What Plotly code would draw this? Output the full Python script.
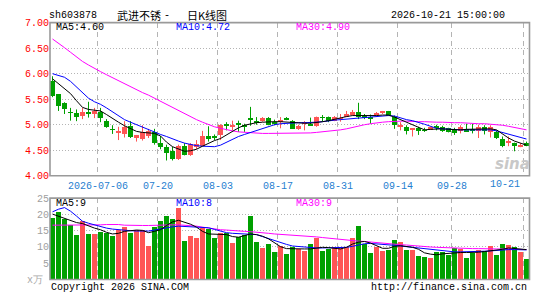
import plotly.graph_objects as go

# ---------------- data ----------------
dates = ["06-24","06-25","06-26","06-29","06-30","07-01","07-02","07-03",
         "07-06","07-07","07-08","07-09","07-10","07-13","07-14","07-15","07-16","07-17",
         "07-20","07-21","07-22","07-23","07-24","07-27","07-28","07-29","07-30","07-31",
         "08-03","08-04","08-05","08-06","08-07","08-10","08-11","08-12","08-13","08-14",
         "08-17","08-18","08-19","08-20","08-21","08-24","08-25","08-26","08-27","08-28",
         "08-31","09-01","09-02","09-03","09-04","09-07","09-08","09-09","09-10","09-11",
         "09-14","09-15","09-16","09-17","09-18","09-21","09-22","09-23","09-24",
         "09-28","09-29","09-30","10-08","10-09","10-12","10-13","10-14","10-15","10-16",
         "10-19","10-20","10-21"]

open_ = [5.87,5.60,5.43,5.25,5.24,5.18,5.26,5.21,5.26,5.08,
         4.92,4.86,4.82,4.99,4.75,4.72,4.78,4.86,4.65,4.58,
         4.50,4.34,4.59,4.42,4.57,4.59,4.78,4.77,4.80,5.00,
         4.98,5.04,4.99,5.12,5.07,5.08,5.13,5.06,5.08,5.14,
         5.08,4.92,5.02,5.03,4.98,5.15,5.16,5.08,5.12,5.16,
         5.19,5.25,5.18,5.16,5.20,5.24,5.27,5.16,4.96,4.97,
         4.92,4.94,4.90,4.91,4.99,4.96,4.94,4.92,4.89,4.92,
         4.91,4.89,4.97,4.87,4.86,4.72,4.65,4.64,4.57,4.65]
close = [5.57,5.38,5.31,5.24,5.16,5.26,5.21,5.27,5.13,4.97,
         4.91,4.87,4.97,4.77,4.80,4.87,4.88,4.65,4.57,4.45,
         4.34,4.59,4.42,4.63,4.63,4.78,4.72,4.76,5.01,4.99,
         4.99,5.00,4.97,5.11,5.06,5.13,5.00,5.04,5.11,5.10,
         4.92,4.99,5.06,5.00,5.16,5.14,5.09,5.16,5.13,5.22,
         5.25,5.15,5.13,5.12,5.24,5.26,5.17,5.00,5.01,4.89,
         4.92,4.89,4.89,4.96,4.94,4.89,4.87,4.85,4.96,4.87,
         4.90,4.96,4.89,4.97,4.75,4.60,4.69,4.60,4.62,4.60]
high = [5.95,5.60,5.44,5.33,5.30,5.33,5.45,5.33,5.33,5.11,
        4.99,4.96,5.07,5.07,4.80,4.99,4.92,4.92,4.78,4.61,
        4.57,4.61,4.64,4.64,4.70,4.88,4.97,4.81,5.01,5.05,
        5.08,5.08,5.02,5.35,5.15,5.15,5.15,5.10,5.15,5.15,
        5.09,5.00,5.07,5.14,5.16,5.19,5.16,5.17,5.21,5.27,
        5.29,5.43,5.21,5.20,5.25,5.27,5.27,5.18,5.05,4.99,
        4.93,4.96,4.94,4.97,5.00,4.98,4.94,4.94,4.99,5.02,
        5.02,5.00,4.99,4.99,4.89,4.77,4.77,4.65,4.64,4.67]
low = [5.54,5.27,5.21,5.08,5.07,5.11,5.14,5.13,5.05,4.94,
       4.82,4.70,4.75,4.74,4.67,4.69,4.74,4.61,4.52,4.30,
       4.30,4.31,4.40,4.39,4.52,4.58,4.67,4.70,4.70,4.89,
       4.89,4.86,4.86,4.98,5.00,5.06,4.99,4.99,4.93,5.09,
       4.92,4.90,4.89,4.99,4.96,5.06,5.05,5.07,5.06,5.15,
       5.18,5.11,5.11,5.02,5.18,5.21,5.17,4.92,4.89,4.81,
       4.77,4.80,4.86,4.90,4.89,4.86,4.85,4.80,4.83,4.86,
       4.83,4.74,4.81,4.75,4.72,4.56,4.58,4.48,4.56,4.58]

ma5 = [5.90,5.80,5.70,5.61,5.47,5.34,5.30,5.28,5.27,5.20,
       5.12,5.05,4.98,4.92,4.87,4.85,4.84,4.83,4.78,4.66,
       4.57,4.52,4.48,4.49,4.52,4.58,4.64,4.69,4.73,4.80,
       4.88,4.94,4.99,5.02,5.04,5.05,5.06,5.06,5.06,5.05,
       5.04,5.04,5.03,5.03,5.04,5.06,5.08,5.11,5.14,5.16,
       5.18,5.18,5.17,5.17,5.18,5.19,5.19,5.15,5.10,5.04,
       4.99,4.94,4.90,4.91,4.92,4.92,4.91,4.90,4.90,4.91,
       4.91,4.92,4.92,4.92,4.90,4.82,4.74,4.68,4.64,4.60]
ma10 = [6.00,5.97,5.93,5.85,5.74,5.62,5.52,5.45,5.40,5.33,
        5.25,5.17,5.10,5.05,5.00,4.95,4.90,4.86,4.81,4.77,
        4.72,4.68,4.64,4.61,4.59,4.58,4.57,4.57,4.60,4.66,
        4.72,4.77,4.81,4.85,4.89,4.93,4.97,5.00,5.02,5.03,
        5.04,5.04,5.04,5.04,5.05,5.06,5.08,5.09,5.10,5.11,
        5.13,5.14,5.15,5.16,5.17,5.18,5.18,5.17,5.13,5.10,
        5.08,5.05,5.01,4.97,4.93,4.92,4.91,4.91,4.90,4.90,
        4.90,4.90,4.90,4.90,4.88,4.85,4.82,4.79,4.76,4.72]
ma30 = [6.68,6.60,6.51,6.42,6.33,6.24,6.17,6.10,6.04,5.98,
        5.92,5.86,5.80,5.75,5.69,5.63,5.58,5.52,5.46,5.40,
        5.34,5.27,5.21,5.15,5.10,5.05,5.00,4.96,4.93,4.90,
        4.88,4.86,4.85,4.84,4.83,4.83,4.83,4.83,4.83,4.83,
        4.83,4.83,4.83,4.84,4.85,4.86,4.87,4.89,4.90,4.92,
        4.95,4.97,5.00,5.02,5.04,5.05,5.06,5.07,5.07,5.07,
        5.06,5.06,5.06,5.05,5.05,5.05,5.04,5.04,5.04,5.03,
        5.03,5.02,5.02,5.01,5.01,4.99,4.97,4.95,4.93,4.90]

volume = [19.0,20.8,18.7,16.8,13.6,17.8,14.0,14.0,14.6,14.3,
          13.3,15.3,16.1,14.3,15.3,15.3,10.3,16.0,17.8,19.6,
          18.7,21.8,11.8,13.3,12.7,15.8,15.4,12.7,14.2,14.4,
          11.3,13.0,13.6,19.6,11.6,9.6,11.0,8.3,10.3,7.8,
          9.8,9.3,8.6,11.0,12.8,8.6,9.3,10.0,10.0,10.0,
          12.8,16.4,10.8,8.0,9.8,8.8,9.1,12.1,11.5,9.1,
          9.1,7.3,7.0,6.7,8.3,8.3,7.6,9.6,9.3,6.7,
          8.0,9.1,8.8,10.3,7.6,11.0,10.6,9.8,8.5,6.4]
vma5 = [20.1,19.4,18.7,18.0,17.5,17.2,16.4,15.8,15.3,14.5,
        14.0,14.2,14.8,15.0,15.2,15.1,14.4,14.8,15.3,16.6,
        17.7,18.2,17.6,17.0,16.1,14.8,14.0,13.9,13.9,13.8,
        13.2,13.0,13.5,14.0,13.8,13.3,12.5,11.4,10.1,9.5,
        9.4,9.4,9.4,9.4,9.7,9.9,9.8,9.5,9.4,9.9,
        10.9,11.5,11.7,11.2,10.5,9.6,9.6,10.2,10.4,10.1,
        9.9,9.3,8.2,7.8,7.6,7.9,8.1,8.2,8.3,8.3,
        8.3,8.4,8.6,8.8,8.9,9.3,9.7,9.6,9.4,9.2]
vma10 = [20.8,21.6,22.1,21.0,19.5,17.9,17.3,16.8,16.2,15.8,
         15.5,15.3,15.0,15.0,14.9,14.9,14.9,15.2,15.6,15.9,
         16.2,16.4,16.3,16.1,16.0,16.0,15.9,15.4,14.8,14.4,
         14.2,14.1,14.0,14.0,13.8,13.2,12.6,11.8,11.2,10.8,
         10.3,10.1,9.9,9.8,9.7,9.7,9.7,9.8,9.8,9.9,
         10.2,10.6,11.0,11.1,11.0,10.8,10.6,10.5,10.3,10.1,
         9.9,9.7,9.5,9.2,9.0,8.8,8.5,8.5,8.5,8.5,
         8.6,8.6,8.7,8.8,9.0,9.1,9.2,9.2,9.1,9.1]
vma30 = [16.7,16.7,16.6,16.6,16.6,16.6,16.6,16.7,16.8,16.9,
         17.0,16.9,16.7,16.6,16.6,16.6,16.6,16.7,16.8,16.8,
         16.8,16.8,16.7,16.6,16.4,16.1,15.8,15.5,15.3,15.2,
         15.0,14.9,14.8,14.7,14.6,14.4,14.2,14.0,13.9,13.8,
         13.7,13.6,13.4,13.3,13.1,12.9,12.7,12.5,12.2,12.0,
         11.8,11.8,11.7,11.5,11.3,11.1,10.9,10.8,10.7,10.6,
         10.4,10.3,10.2,10.0,9.9,9.8,9.7,9.6,9.6,9.5,
         9.5,9.5,9.4,9.4,9.4,9.4,9.3,9.3,9.3,9.2]

tick_dates = ["07-06","07-20","08-03","08-17","08-31","09-14","09-28","10-21"]
tick_labels = ["2026-07-06","07-20","08-03","08-17","08-31","09-14","09-28","10-21"]
price_ticks = [4.0, 4.5, 5.0, 5.5, 6.0, 6.5, 7.0]
vol_ticks = [5, 10, 15, 20, 25]

# ---------------- styling ----------------
W, H = 545, 300
RED, GREEN = "#ff5555", "#00a000"
FONT = "Liberation Mono"
GRID = "#b4b4b4"
FRAME = "#9a9a9a"
DATE_BLUE = "#1f80d0"

def px(x):
    return x / W

def py(y):
    return 1 - y / H

n = len(dates)
xs = list(range(n))
up = [c >= o for o, c in zip(open_, close)]
cols = [RED if u else GREEN for u in up]
body_base = [min(o, c) for o, c in zip(open_, close)]
body_h = [max(abs(c - o), 0.013) for o, c in zip(open_, close)]

fig = go.Figure()

# wicks
for flag, col in ((True, RED), (False, GREEN)):
    wx, wy = [], []
    for i in xs:
        if up[i] == flag:
            wx += [i, i, None]
            wy += [low[i], high[i], None]
    fig.add_trace(go.Scatter(x=wx, y=wy, mode="lines", line=dict(color=col, width=1),
                             hoverinfo="skip", showlegend=False, xaxis="x", yaxis="y"))

fig.add_trace(go.Bar(x=xs, y=body_h, base=body_base, width=5/6, marker=dict(color=cols, line=dict(width=0)),
                     showlegend=False, xaxis="x", yaxis="y"))

for arr, col in ((ma30, "#ff00ff"), (ma10, "#0000ff"), (ma5, "#000000")):
    fig.add_trace(go.Scatter(x=xs, y=arr, mode="lines", line=dict(color=col, width=1),
                             showlegend=False, xaxis="x", yaxis="y"))

fig.add_trace(go.Bar(x=xs, y=volume, width=5/6, marker=dict(color=cols, line=dict(width=0)),
                     showlegend=False, xaxis="x2", yaxis="y2"))
for arr, col in ((vma30, "#ff00ff"), (vma10, "#0000ff"), (vma5, "#000000")):
    fig.add_trace(go.Scatter(x=xs, y=arr, mode="lines", line=dict(color=col, width=1),
                             showlegend=False, xaxis="x2", yaxis="y2"))

tick_pos = [dates.index(d) - 0.42 for d in tick_dates]
# the last label is drawn pulled inside the frame (as in the reference)
axis_text = tick_labels[:-1] + [""]
x_dom = [px(50), px(529.5)]
x_rng = [-0.4167, n - 0.5]

common_x = dict(domain=x_dom, range=x_rng, showgrid=True, gridcolor=GRID, griddash="5px,4px",
                gridwidth=1, zeroline=False, showline=False, ticks="", tickvals=tick_pos, fixedrange=True)
fig.update_layout(
    width=W, height=H, margin=dict(l=0, r=0, t=0, b=0),
    paper_bgcolor="white", plot_bgcolor="white",
    barmode="overlay", bargap=0,
    font=dict(family=FONT, size=10),
    xaxis=dict(anchor="y", ticktext=axis_text, showticklabels=True, ticklabelstandoff=2,
               tickfont=dict(color=DATE_BLUE, size=10, family=FONT), **common_x),
    xaxis2=dict(anchor="y2", showticklabels=False, **common_x),
    yaxis=dict(domain=[py(177.3), py(18.3)], range=[4, 7], tickvals=price_ticks,
               ticktext=["%.2f" % v for v in price_ticks], tickfont=dict(color="#ff0000", size=10, family=FONT),
               showgrid=True, gridcolor=GRID, griddash="1px,2px", zeroline=False, ticks="", fixedrange=True),
    yaxis2=dict(domain=[py(285), py(200.5)], range=[0, 25], tickvals=vol_ticks,
                ticktext=[str(v) for v in vol_ticks], tickfont=dict(color="#a0a0a0", size=10, family=FONT),
                showgrid=True, gridcolor=GRID, griddash="1px,2px", zeroline=False, ticks="", fixedrange=True),
)

for xr, yr in (("x domain", "y domain"), ("x2 domain", "y2 domain")):
    fig.add_shape(type="rect", xref=xr, yref=yr, x0=0, x1=1, y0=0, y1=1,
                  line=dict(color=FRAME, width=1.6), layer="above")

def note(text, x, y, color="#000000", anchor="left", size=10, family=FONT, **kw):
    fig.add_annotation(text=text, x=px(x), y=py(y), xref="paper", yref="paper", showarrow=False,
                       xanchor=anchor, yanchor="middle", font=dict(color=color, size=size, family=family, **kw))

note("sh603878", 47, 11)
note("武进不锈", 115, 10.5, size=11, family="Noto Sans CJK SC")
note("-", 167, 11, anchor="center")
note("日K线图", 185, 10.5, size=11, family="Noto Sans CJK SC")
note("2026-10-21 15:00:00", 507, 11, anchor="right")

note("MA5:%.2f" % ma5[-1], 54, 23)
note("MA10:%.2f" % ma10[-1], 174, 23, color="#0000ff")
note("MA30:%.2f" % ma30[-1], 294, 23, color="#ff00ff")

note("MA5:9", 54, 206.5)
note("MA10:8", 174, 206.5, color="#0000ff")
note("MA30:9", 294, 206.5, color="#ff00ff")

note(tick_labels[-1], 522, 186.5, color=DATE_BLUE, anchor="right")

note("x万", 45, 286, color="#a8a8a8", anchor="right")
note("Copyright 2026 SINA.COM", 49, 293)
note("http://finance.sina.com.cn", 529, 293, anchor="right")
note("sina", 512, 165, color="#c8c8c8", anchor="center", size=15, family="DejaVu Sans", weight="bold", style="italic")

fig.write_html("out.html")
